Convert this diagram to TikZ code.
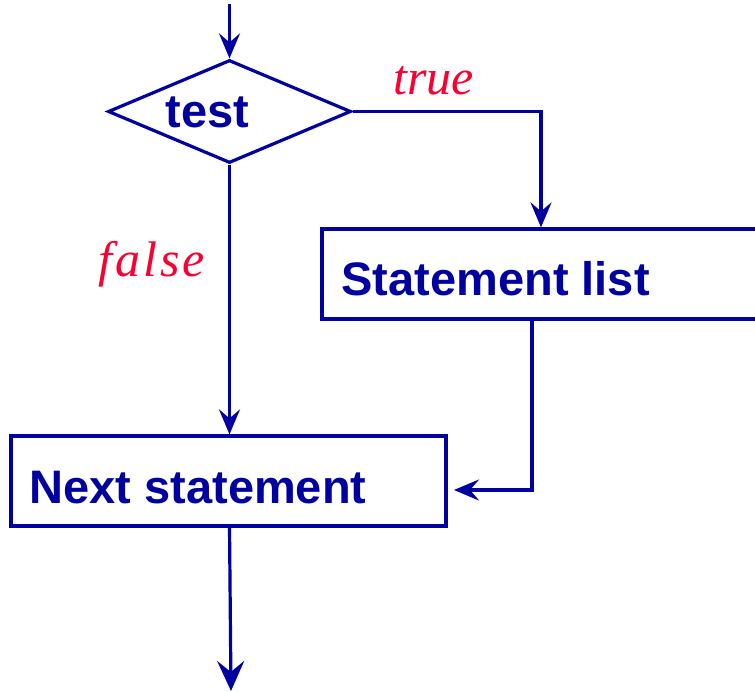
\documentclass[tikz,border=0pt]{standalone}
\usepackage{fontspec}
\setsansfont{Liberation Sans}
\newfontfamily\lblfont{Liberation Serif}
\newfontfamily\lblwide[LetterSpace=6]{Liberation Serif}
\usetikzlibrary{arrows.meta,shapes.geometric}
\definecolor{navy}{RGB}{0,0,160}
\definecolor{lblred}{RGB}{250,0,50}
\begin{document}
\begin{tikzpicture}[x=1pt,y=-1pt,
  line width=3.2pt,
  arr/.style={draw=navy,line width=3.2pt,-{Stealth[length=25pt,width=21pt,inset=9pt]}},
  bigarr/.style={draw=navy,line width=3.2pt,-{Stealth[length=30pt,width=27pt,inset=11pt]}},
  boxtxt/.style={text=navy,font=\sffamily\bfseries\fontsize{47}{50}\selectfont,anchor=base west,inner sep=0pt},
  lbl/.style={text=lblred,font=\lblfont\itshape\fontsize{50}{54}\selectfont,anchor=base west,inner sep=0pt},
  lblw/.style={text=lblred,font=\lblwide\itshape\fontsize{50}{54}\selectfont,anchor=base west,inner sep=0pt},
  box/.style={draw=navy,line width=3.2pt,minimum width=#1,minimum height=90pt,inner sep=0pt}
]
\useasboundingbox (0,0) rectangle (755,692);
\node[draw=navy,diamond,line width=3.2pt,minimum width=243pt,minimum height=103pt,inner sep=0pt,aspect=2.36] (test) at (229.5,111.5) {};
\node[box=435pt] (next) at (228.5,481) {};
\node[box=436pt] (stmt) at (540,274) {};
\node[boxtxt] (ttest) at (164,128) {test};
\node[boxtxt] (tstmt) at (340,296) {Statement list};
\node[boxtxt] (tnext) at (28,503) {Next statement};
\node[lbl] (ltrue) at (392,95) {true};
\node[lblw] (lfalse) at (97,277) {false};
\coordinate (in) at (229.5,4);
\coordinate (out) at (231,691);
\coordinate (c1) at (541,111.5);
\coordinate (c2) at (532,490);
\coordinate (c3) at (454,490);
\draw[arr] (in) -- (test.north);
\draw[arr] (test.east) -- (c1) -- (c1 |- stmt.north);
\draw[arr] (test.south) -- (test.south |- next.north);
\draw[arr] (c2 |- stmt.south) -- (c2) -- (c3);
\coordinate (nb) at (229.5,526);
\draw[bigarr] (nb) -- (out);
\end{tikzpicture}
\end{document}
